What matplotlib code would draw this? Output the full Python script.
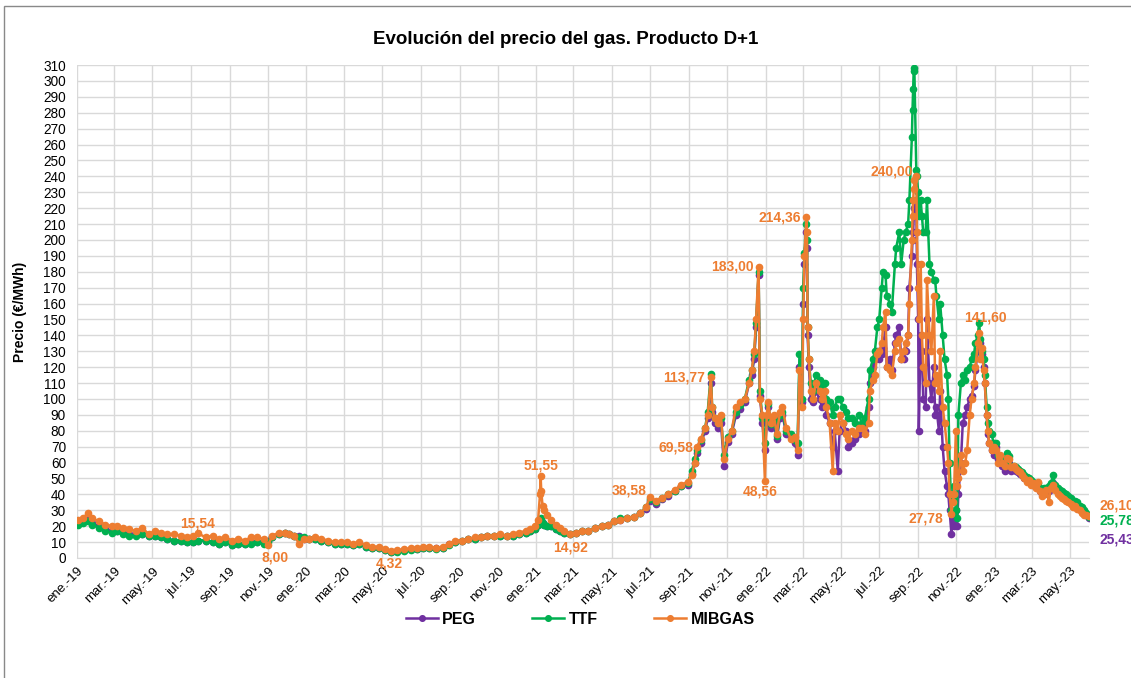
import pandas as pd
import numpy as np
import matplotlib
matplotlib.use('Agg')
import matplotlib.pyplot as plt
import matplotlib.dates as mdates
from matplotlib.patches import Rectangle

plt.rcParams['font.family'] = ['Liberation Sans', 'DejaVu Sans']

# Datos (precio D+1, €/MWh)
fechas_2019 = ['2019-01-02', '2019-01-10', '2019-01-18', '2019-01-25', '2019-02-05', '2019-02-15', '2019-02-25', '2019-03-05', '2019-03-15', '2019-03-25',
               '2019-04-05', '2019-04-15', '2019-04-25', '2019-05-05', '2019-05-15', '2019-05-25', '2019-06-05', '2019-06-15', '2019-06-25', '2019-07-05',
               '2019-07-12', '2019-07-25', '2019-08-05', '2019-08-15', '2019-08-25', '2019-09-05', '2019-09-15', '2019-09-25', '2019-10-05', '2019-10-15',
               '2019-10-25', '2019-11-01', '2019-11-08', '2019-11-18', '2019-11-28', '2019-12-05', '2019-12-12', '2019-12-21', '2019-12-28']
peg_2019 = [22, 23, 24, 22, 20, 18, 17, 17, 16, 15,
            15, 15, 14, 14, 13, 12, 11, 11, 10, 10,
            11, 11, 10, 9, 10, 8, 9, 9, 10, 10,
            10, 11, 13, 15, 16, 15, 14, 14, 12]
ttf_2019 = [21, 22, 23, 21, 19, 17, 16, 17, 15, 14,
            14, 15, 14, 14, 13, 12, 11, 11, 10, 10,
            11, 11, 10, 9, 10, 8, 9, 9, 9, 10,
            9, 10, 13, 15, 16, 15, 14, 13, 13]
mibgas_2019 = [24, 25, 28, 25, 23, 21, 20, 20, 19, 18,
               17, 19, 15, 17, 16, 15, 15, 14, 13, 14,
               15.54, 13, 14, 12, 13, 11, 12, 11, 13, 13,
               12, 8.00, 14, 16, 16, 15, 14, 9, 12]

fechas_2020 = ['2020-01-05', '2020-01-15', '2020-01-25', '2020-02-05', '2020-02-15', '2020-02-25', '2020-03-05', '2020-03-15', '2020-03-25', '2020-04-05',
               '2020-04-15', '2020-04-25', '2020-05-05', '2020-05-15', '2020-05-25', '2020-06-05', '2020-06-15', '2020-06-25', '2020-07-05', '2020-07-15',
               '2020-07-25', '2020-08-05', '2020-08-15', '2020-08-25', '2020-09-05', '2020-09-15', '2020-09-25', '2020-10-05', '2020-10-15', '2020-10-25',
               '2020-11-05', '2020-11-15', '2020-11-25', '2020-12-05', '2020-12-15', '2020-12-22', '2020-12-30']
peg_2020 = [12, 12, 11, 10, 9, 9, 9, 8, 9, 7,
            6, 6, 5, 3.8, 4.5, 5, 5.5, 5.5, 6, 6,
            6, 6.5, 8.5, 10, 11, 12, 12, 13, 14, 14,
            14, 14, 14, 15, 16, 17, 18]
ttf_2020 = [12, 12, 11, 10, 9, 9, 9, 8, 9, 7,
            6, 6, 5, 3.5, 4, 4.5, 5, 5.5, 6, 6,
            5.5, 6.5, 8, 10, 11, 12, 12, 13, 14, 14,
            14, 14, 14, 15, 16, 17, 18]
mibgas_2020 = [12, 13, 12, 11, 10, 10, 10, 9, 10, 8,
               7, 7, 5.5, 4.32, 5, 5.5, 6, 6, 7, 7,
               6.5, 7, 9, 11, 11, 12, 13, 13, 14, 14,
               15, 14, 15, 16, 17, 18, 20]

fechas_2021 = ['2021-01-04', '2021-01-07', '2021-01-08', '2021-01-09', '2021-01-11', '2021-01-13', '2021-01-18', '2021-01-25', '2021-02-01', '2021-02-08',
               '2021-02-15', '2021-02-24', '2021-03-05', '2021-03-15', '2021-03-25', '2021-04-05', '2021-04-15', '2021-04-25', '2021-05-05', '2021-05-15',
               '2021-05-25', '2021-06-05', '2021-06-15', '2021-06-25', '2021-07-01', '2021-07-10', '2021-07-20', '2021-07-30', '2021-08-10', '2021-08-20',
               '2021-08-30', '2021-09-06', '2021-09-10', '2021-09-14', '2021-09-20', '2021-09-27', '2021-10-01', '2021-10-06', '2021-10-08', '2021-10-12',
               '2021-10-18', '2021-10-22', '2021-10-27', '2021-11-02', '2021-11-08', '2021-11-15', '2021-11-22', '2021-11-29', '2021-12-06', '2021-12-10',
               '2021-12-14', '2021-12-17', '2021-12-21', '2021-12-23', '2021-12-27', '2021-12-31']
peg_2021 = [21, 23, 24, 23, 22, 21, 20, 20, 18, 17,
            16, 15, 16, 17, 17, 19, 20, 21, 23, 24,
            25, 26, 28, 31, 36, 34, 37, 39, 42, 45,
            46, 53, 60, 66, 72, 80, 88, 110, 92, 85,
            82, 85, 58, 73, 78, 90, 94, 98, 110, 115,
            125, 145, 178, 102, 85, 68]
ttf_2021 = [21, 23, 25, 24, 22, 21, 20, 20, 18, 17,
            16, 15, 16, 17, 17, 19, 20, 21, 23, 25,
            25, 26, 28, 32, 37, 35, 38, 40, 42, 45,
            47, 55, 62, 68, 74, 82, 92, 116, 95, 88,
            85, 88, 65, 76, 80, 92, 96, 100, 112, 118,
            128, 148, 180, 105, 88, 72]
mibgas_2021 = [24, 40, 51.55, 42, 33, 30, 27, 24, 21, 19,
               17, 14.92, 16, 17, 17, 19, 20, 21, 23, 24,
               25, 26, 28, 32, 38.58, 36, 38, 40, 43, 46,
               48, 52, 60, 69.58, 75, 82, 90, 113.77, 95, 88,
               85, 90, 62, 75, 80, 95, 98, 100, 110, 118,
               130, 150, 183.00, 100, 90, 48.56]

fechas_2022a = ['2022-01-03', '2022-01-05', '2022-01-10', '2022-01-14', '2022-01-19', '2022-01-24', '2022-01-28', '2022-02-03', '2022-02-10', '2022-02-17',
                '2022-02-21', '2022-02-24', '2022-02-28', '2022-03-02', '2022-03-04', '2022-03-07', '2022-03-08', '2022-03-09', '2022-03-11', '2022-03-14',
                '2022-03-18', '2022-03-22', '2022-03-28', '2022-04-01', '2022-04-05', '2022-04-08', '2022-04-13', '2022-04-18', '2022-04-21', '2022-04-26',
                '2022-04-29', '2022-05-04', '2022-05-09', '2022-05-13', '2022-05-18', '2022-05-24', '2022-05-30', '2022-06-03', '2022-06-08', '2022-06-14',
                '2022-06-16', '2022-06-21', '2022-06-24', '2022-06-28']
peg_2022a = [85, 95, 82, 85, 75, 88, 90, 78, 76, 72,
             65, 120, 98, 160, 185, 205, 195, 140, 120, 100,
             98, 105, 100, 95, 100, 90, 85, 70, 80, 55,
             80, 85, 80, 70, 72, 75, 78, 80, 80, 95,
             110, 120, 125, 130]
ttf_2022a = [88, 97, 84, 87, 77, 90, 92, 80, 78, 74,
             72, 128, 100, 170, 192, 210, 200, 145, 125, 110,
             105, 115, 112, 108, 110, 100, 98, 90, 95, 100,
             100, 95, 92, 88, 88, 85, 90, 85, 88, 100,
             118, 125, 130, 145]
mibgas_2022a = [90, 98, 85, 90, 78, 92, 95, 82, 75, 76,
                68, 118, 95, 150, 190, 214.36, 205, 145, 125, 105,
                100, 110, 105, 100, 105, 95, 85, 55, 85, 80,
                90, 85, 78, 75, 80, 78, 82, 82, 78, 85,
                105, 112, 115, 128]

fechas_2022b = ['2022-07-01', '2022-07-05', '2022-07-07', '2022-07-11', '2022-07-13', '2022-07-18', '2022-07-21', '2022-07-26', '2022-07-28', '2022-08-02',
                '2022-08-05', '2022-08-09', '2022-08-12', '2022-08-16', '2022-08-18', '2022-08-22', '2022-08-23', '2022-08-24', '2022-08-25', '2022-08-26',
                '2022-08-29', '2022-08-30', '2022-09-01', '2022-09-02', '2022-09-05', '2022-09-07', '2022-09-09', '2022-09-13', '2022-09-15', '2022-09-19',
                '2022-09-22', '2022-09-26', '2022-09-28', '2022-09-30', '2022-10-04', '2022-10-06', '2022-10-10', '2022-10-13', '2022-10-17', '2022-10-19',
                '2022-10-21', '2022-10-24', '2022-10-26', '2022-10-28', '2022-10-31', '2022-11-02', '2022-11-04', '2022-11-08', '2022-11-11', '2022-11-15',
                '2022-11-18', '2022-11-22', '2022-11-25', '2022-11-29', '2022-12-01', '2022-12-05', '2022-12-07', '2022-12-09', '2022-12-12', '2022-12-14',
                '2022-12-16', '2022-12-19', '2022-12-21', '2022-12-23', '2022-12-27', '2022-12-30']
peg_2022b = [125, 128, 132, 145, 120, 125, 118, 135, 140, 145,
             125, 125, 130, 140, 170, 190, 200, 205, 215, 220,
             225, 185, 150, 80, 140, 130, 100, 95, 150, 110,
             100, 120, 90, 95, 80, 105, 70, 55, 45, 40,
             30, 15, 25, 20, 30, 20, 40, 60, 85, 90,
             95, 100, 102, 108, 118, 130, 138, 135, 128, 120,
             110, 90, 78, 72, 68, 65]
ttf_2022b = [150, 170, 180, 178, 165, 160, 155, 185, 195, 205,
             185, 200, 205, 210, 225, 265, 282, 295, 308, 306,
             244, 240, 230, 215, 225, 215, 205, 205, 225, 185,
             180, 175, 175, 165, 150, 160, 140, 125, 115, 100,
             60, 30, 40, 45, 30, 25, 90, 110, 115, 112,
             118, 120, 125, 128, 135, 140, 148, 138, 130, 125,
             115, 95, 85, 80, 78, 72]
mibgas_2022b = [130, 135, 145, 155, 120, 118, 115, 130, 135, 138,
                125, 130, 135, 140, 160, 200, 215, 225, 232, 238,
                240.00, 205, 170, 150, 185, 140, 120, 110, 175, 140,
                130, 165, 110, 115, 105, 130, 95, 85, 70, 60,
                40, 27.78, 35, 40, 80, 45, 50, 65, 55, 60,
                68, 90, 100, 110, 120, 135, 141.60, 125, 132, 118,
                110, 90, 80, 72, 68, 70]

fechas_2023 = ['2023-01-03', '2023-01-06', '2023-01-10', '2023-01-13', '2023-01-17', '2023-01-20', '2023-01-24', '2023-01-27', '2023-01-31', '2023-02-03',
               '2023-02-07', '2023-02-10', '2023-02-14', '2023-02-17', '2023-02-21', '2023-02-24', '2023-02-28', '2023-03-03', '2023-03-07', '2023-03-10',
               '2023-03-14', '2023-03-17', '2023-03-21', '2023-03-24', '2023-03-28', '2023-03-31', '2023-04-04', '2023-04-07', '2023-04-11', '2023-04-14',
               '2023-04-18', '2023-04-21', '2023-04-25', '2023-04-28', '2023-05-03', '2023-05-05', '2023-05-09', '2023-05-12', '2023-05-16', '2023-05-19',
               '2023-05-23', '2023-05-26', '2023-05-31']
peg_2023 = [70, 62, 60, 58, 55, 62, 60, 55, 56, 55,
            54, 53, 52, 50, 49, 48, 47, 46, 45, 45,
            42, 40, 40, 41, 42, 44, 47, 44, 42, 40,
            40, 38, 38, 37, 35, 33, 34, 32, 31, 30,
            28, 27, 25.43]
ttf_2023 = [72, 65, 63, 62, 60, 66, 64, 58, 58, 57,
            56, 55, 54, 52, 51, 50, 49, 48, 46, 47,
            44, 42, 44, 44, 45, 47, 52, 46, 44, 43,
            42, 41, 40, 39, 38, 36, 36, 35, 33, 32,
            30, 28, 25.78]
mibgas_2023 = [68, 60, 65, 60, 58, 63, 62, 57, 58, 56,
               55, 54, 52, 50, 48, 49, 46, 47, 44, 48,
               42, 39, 40, 43, 35, 44, 46, 43, 40, 39,
               38, 37, 36, 35, 34, 32, 33, 31, 30, 28,
               27, 27, 26.10]

# Valores etiquetados de MIBGAS
etiq_fechas = ['2019-07-12', '2019-11-01', '2020-05-15', '2021-01-08', '2021-02-24', '2021-07-01', '2021-09-14',
               '2021-10-06', '2021-12-21', '2022-03-07', '2021-12-31', '2022-08-29', '2022-10-24', '2022-12-07']
etiq_valores = [15.54, 8.00, 4.32, 51.55, 14.92, 38.58, 69.58, 113.77, 183.00, 214.36, 48.56, 240.00, 27.78, 141.60]

meses_es = ['ene.', 'feb.', 'mar.', 'abr.', 'may.', 'jun.', 'jul.', 'ago.', 'sep.', 'oct.', 'nov.', 'dic.']

fechas = pd.to_datetime(fechas_2019 + fechas_2020 + fechas_2021 + fechas_2022a + fechas_2022b + fechas_2023)
peg = peg_2019 + peg_2020 + peg_2021 + peg_2022a + peg_2022b + peg_2023
ttf = ttf_2019 + ttf_2020 + ttf_2021 + ttf_2022a + ttf_2022b + ttf_2023
mibgas = mibgas_2019 + mibgas_2020 + mibgas_2021 + mibgas_2022a + mibgas_2022b + mibgas_2023

c_peg = '#7030A0'
c_ttf = '#00B050'
c_mib = '#ED7D31'

fig = plt.figure(figsize=(11.31, 6.78), dpi=100)
ax = fig.add_axes([0.0681, 0.177, 0.8948, 0.7271])

ax.plot(fechas, peg, color=c_peg, lw=1.8, marker='o', ms=4.5, label='PEG')
ax.plot(fechas, ttf, color=c_ttf, lw=1.8, marker='o', ms=4.5, label='TTF')
ax.plot(fechas, mibgas, color=c_mib, lw=1.8, marker='o', ms=4.5, label='MIBGAS')

ax.set_ylim(0, 310)
ax.set_yticks(np.arange(0, 311, 10))
ax.set_xlim(pd.Timestamp('2019-01-01'), pd.Timestamp('2023-05-31'))
ax.xaxis.set_major_locator(mdates.MonthLocator(bymonth=[1, 3, 5, 7, 9, 11]))
ax.xaxis.set_major_formatter(plt.FuncFormatter(
    lambda v, p: meses_es[mdates.num2date(v).month - 1] + '-' + mdates.num2date(v).strftime('%y')))
plt.setp(ax.get_xticklabels(), rotation=45, ha='right', rotation_mode='anchor')
ax.tick_params(axis='both', length=0, colors='#000000')
ax.tick_params(axis='y', pad=8, labelsize=9.8)
ax.tick_params(axis='x', pad=5, labelsize=9.5)

ax.grid(True, color='#D9D9D9', lw=1)
ax.set_axisbelow(True)
for s in ['top', 'right', 'left']:
    ax.spines[s].set_visible(False)
ax.spines['bottom'].set_color('#D9D9D9')

ax.set_ylabel('Precio (€/MWh)', fontsize=10, fontweight='bold', labelpad=12)
fig.text(0.5, 0.942, 'Evolución del precio del gas. Producto D+1', ha='center', va='center',
         fontsize=13.5, fontweight='bold')

# Etiquetas de datos (desplazamiento en pixeles y alineacion)
desplaz = [(0, 10, 'center'), (7, -12, 'center'), (-2, -12, 'center'), (0, 11, 'center'), (0, -13, 'center'),
           (-3, 6, 'right'), (-4, 0, 'right'), (-6, 0, 'right'), (-5, 0, 'right'), (-5, 0, 'right'),
           (-5, -11, 'center'), (-3, 5, 'right'), (-8, -5, 'right'), (6, 15, 'center')]
for f, v, (dx, dy, ha) in zip(etiq_fechas, etiq_valores, desplaz):
    ax.annotate(f'{v:.2f}'.replace('.', ','), (pd.Timestamp(f), v), xytext=(dx, dy),
                textcoords='offset pixels', ha=ha, va='center', color=c_mib,
                fontsize=10, fontweight='bold', annotation_clip=False)

for serie, col, dy in [(mibgas, c_mib, 11), (ttf, c_ttf, -4), (peg, c_peg, -22)]:
    ax.annotate(f'{serie[-1]:.2f}'.replace('.', ','), (fechas[-1], serie[-1]), xytext=(10, dy),
                textcoords='offset pixels', ha='left', va='center', color=col,
                fontsize=10, fontweight='bold', annotation_clip=False)

leg = fig.legend(loc='center', bbox_to_anchor=(0.513, 0.087), ncol=3, frameon=False,
                 prop={'weight': 'bold', 'size': 11.5}, handlelength=2, columnspacing=3.5,
                 handletextpad=0.3, markerscale=0.9)

# Borde del grafico
fig.patches.append(Rectangle((4 / 1131, -0.05), 1.2, 1 - 6 / 678 + 0.05, transform=fig.transFigure,
                             fill=False, edgecolor='#898989', lw=1))

fig.savefig('out.png', dpi=100)
